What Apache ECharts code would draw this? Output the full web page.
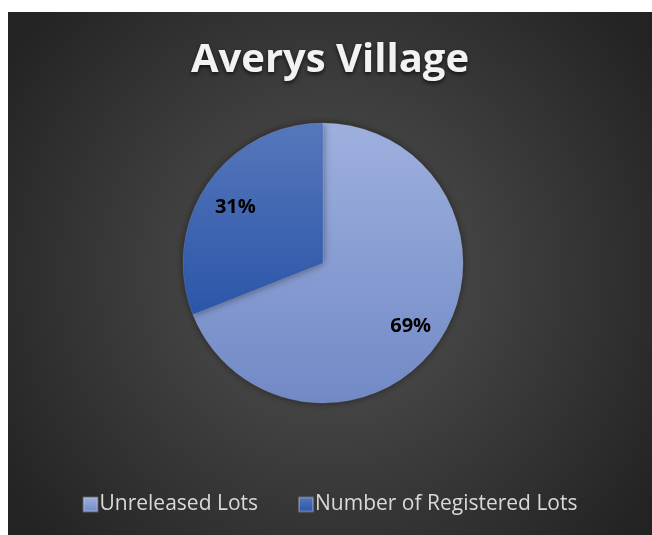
<!DOCTYPE html>
<html>
<head>
<meta charset="utf-8">
<script src="https://cdn.jsdelivr.net/npm/echarts@6/dist/echarts.min.js"></script>
<style>
  html, body { margin: 0; padding: 0; background: #fff; }
  #chart { position: absolute; left: 8px; top: 12px; width: 644px; height: 523px; }
</style>
</head>
<body>
<div id="chart"></div>
<script>
// 圖表資料
const chartTitle = 'Averys Village';
const categories = ['Unreleased Lots', 'Number of Registered Lots'];
const values = [69, 31];

const chart = echarts.init(document.getElementById('chart'));

// 每個扇形的漸層色
const sliceColors = [
    new echarts.graphic.LinearGradient(0, 0, 0, 1, [
        { offset: 0, color: '#9eb0de' },
        { offset: 1, color: '#7189c6' },
    ]),
    new echarts.graphic.LinearGradient(0, 0, 0, 1, [
        { offset: 0, color: '#5677bb' },
        { offset: 1, color: '#2b56a9' },
    ]),
];

const pieData = categories.map((name, i) => ({
    name,
    value: values[i],
    itemStyle: { color: sliceColors[i] },
}));

const option = {
    backgroundColor: new echarts.graphic.RadialGradient(0.5, 0.5, 0.75, [
        { offset: 0, color: '#545454' },
        { offset: 1, color: '#232323' },
    ]),
    animation: false,
    title: {
        text: chartTitle,
        left: 'center',
        top: 24,
        textStyle: {
            color: '#f2f2f2',
            fontFamily: 'Open Sans',
            fontSize: 40,
            fontWeight: 'bold',
            textShadowColor: 'rgba(0, 0, 0, 0.7)',
            textShadowBlur: 4,
            textShadowOffsetY: 2,
        },
    },
    legend: {
        data: categories,
        bottom: 15,
        left: 'center',
        itemWidth: 14,
        itemHeight: 14,
        itemGap: 40,
        icon: 'rect',
        textStyle: {
            color: '#d9d9d9',
            fontFamily: 'Open Sans',
            fontSize: 21,
            padding: [0, 0, 0, -3],
        },
    },
    series: [
        {
            type: 'pie',
            center: [315, 251],
            radius: [0, 140],
            startAngle: 90,
            clockwise: true,
            silent: true,
            label: { show: false },
            labelLine: { show: false },
            itemStyle: {
                borderColor: 'rgba(255, 255, 255, 0.25)',
                borderWidth: 0.5,
                shadowBlur: 8,
                shadowColor: 'rgba(0, 0, 0, 0.45)',
            },
            data: pieData,
        },
        {
            // 只負責顯示百分比標籤（透明扇形）
            type: 'pie',
            center: [315, 255],
            radius: [66, 140],
            startAngle: 90,
            clockwise: true,
            silent: true,
            itemStyle: { color: 'transparent' },
            label: {
                show: true,
                position: 'inside',
                formatter: '{d}%',
                color: '#000',
                fontFamily: 'Open Sans',
                fontSize: 20,
                fontWeight: 'bold',
            },
            labelLine: { show: false },
            data: categories.map((name, i) => ({ name, value: values[i] })),
        },
    ],
};

chart.setOption(option);
</script>
</body>
</html>
